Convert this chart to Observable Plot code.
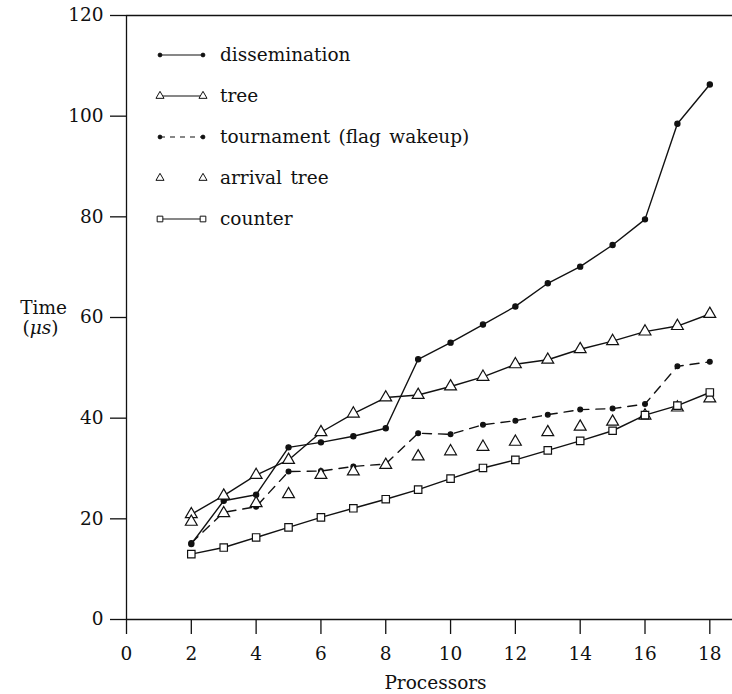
<!DOCTYPE html>
<html>
<head>
<meta charset="utf-8">
<script src="https://cdn.jsdelivr.net/npm/d3@7"></script>
<script src="https://cdn.jsdelivr.net/npm/@observablehq/plot@0.6"></script>
<style>
  html, body { margin: 0; padding: 0; background: #fff; }
  #chart { position: relative; width: 732px; height: 694px; }
  #chart > svg { position: absolute; left: 0; top: 0; }
</style>
</head>
<body>
<div id="chart"></div>
<script>
// ---- data ----
const processors = [2, 3, 4, 5, 6, 7, 8, 9, 10, 11, 12, 13, 14, 15, 16, 17, 18];
const dissemination = [15.0, 23.6, 24.8, 34.2, 35.2, 36.4, 38.0, 51.7, 55.0, 58.6, 62.2, 66.8, 70.1, 74.4, 79.5, 98.5, 106.3];
const tree = [20.9, 24.6, 28.7, 31.7, 37.2, 40.9, 44.1, 44.6, 46.3, 48.2, 50.7, 51.6, 53.7, 55.3, 57.2, 58.3, 60.7];
const tournament = [15.2, 21.3, 22.4, 29.4, 29.5, 30.4, 30.9, 37.0, 36.8, 38.7, 39.5, 40.7, 41.7, 41.9, 42.8, 50.3, 51.2];
const arrivalTree = [19.4, 21.1, 23.1, 24.9, 28.7, 29.4, 30.7, 32.4, 33.4, 34.3, 35.3, 37.2, 38.3, 39.3, 40.5, 42.1, 43.9];
const counter = [13.0, 14.3, 16.3, 18.3, 20.3, 22.1, 23.9, 25.8, 28.0, 30.1, 31.7, 33.6, 35.5, 37.5, 40.6, 42.5, 45.1];
const seriesNames = ["dissemination", "tree", "tournament (flag wakeup)", "arrival tree", "counter"];
const xTicks = [0, 2, 4, 6, 8, 10, 12, 14, 16, 18];
const yTicks = [0, 20, 40, 60, 80, 100, 120];
const xLabel = "Processors";
const yLabelLines = ["Time", "(μs)"];

// ---- styles per series (kept apart from data) ----
const seriesValues = [dissemination, tree, tournament, arrivalTree, counter];
const styles = [
  {symbol: "circle", fill: "#111", line: true, dash: null, r: 2.6, lr: 1.9},
  {symbol: "triangle", fill: "white", line: true, dash: null, r: 4.4, lr: 3.0},
  {symbol: "circle", fill: "#111", line: true, dash: "9,7", r: 2.4, lr: 1.9},
  {symbol: "triangle", fill: "white", line: false, dash: null, r: 4.4, lr: 3.0},
  {symbol: "square", fill: "white", line: true, dash: null, r: 4.2, lr: 3.2}
];
const ink = "#111";
const font = "DejaVu Serif";

const tables = seriesValues.map(vals => processors.map((p, i) => ({p, v: vals[i]})));

const marks = [
  Plot.ruleY([0, 120], {stroke: ink, strokeWidth: 1.3}),
  Plot.ruleX([0], {stroke: ink, strokeWidth: 1.3}),
  Plot.axisX({ticks: xTicks, tickSize: 15, tickPadding: 12, tickFormat: d => String(d), label: null, strokeWidth: 1.3}),
  Plot.axisY({ticks: yTicks, tickSize: 16, tickPadding: 7, tickFormat: d => String(d), label: null, strokeWidth: 1.3}),
  Plot.text([xLabel], {frameAnchor: "bottom", dx: 6, dy: 69, lineAnchor: "bottom", text: d => d}),
  Plot.text([yLabelLines[0]], {frameAnchor: "left", dx: -83, dy: -4, lineAnchor: "bottom", textAnchor: "middle", text: d => d}),
  Plot.text([yLabelLines[1]], {frameAnchor: "left", dx: -86, dy: 16, lineAnchor: "bottom", textAnchor: "middle", text: d => d})
];
tables.forEach((t, k) => {
  const s = styles[k];
  if (s.line) marks.push(Plot.line(t, {x: "p", y: "v", stroke: ink, strokeWidth: 1.4, strokeDasharray: s.dash}));
  marks.push(Plot.dot(t, {x: "p", y: "v", symbol: s.symbol, r: s.r, fill: s.fill, stroke: ink, strokeWidth: 1.2}));
});

const plot = Plot.plot({
  width: 732,
  height: 694,
  marginLeft: 126,
  marginRight: 0,
  marginTop: 15,
  marginBottom: 75,
  x: {domain: [0, 18.7]},
  y: {domain: [0, 120]},
  style: {fontFamily: font, fontSize: "18.5px", color: ink, background: "white"},
  marks
});
const chart = document.getElementById("chart");
chart.appendChild(plot);

// italic μs
d3.select(plot).selectAll("text").filter(function() { return this.textContent === "(μs)"; })
  .each(function() {
    const t = d3.select(this);
    t.text(null);
    t.append("tspan").text("(");
    t.append("tspan").attr("font-style", "italic").text("μs");
    t.append("tspan").text(")");
  });

// ---- legend overlay ----
const lg = d3.select(chart).append("svg")
  .attr("width", 732).attr("height", 694)
  .style("pointer-events", "none")
  .style("font-family", font).style("font-size", "18.5px");
const symMap = {circle: d3.symbolCircle, triangle: d3.symbolTriangle, square: d3.symbolSquare};
seriesNames.forEach((name, i) => {
  const s = styles[i];
  const y = 55 + i * 41;
  const g = lg.append("g").attr("transform", `translate(0,${y})`);
  if (s.line) g.append("line").attr("x1", 160).attr("x2", 203).attr("y1", 0).attr("y2", 0)
    .attr("stroke", ink).attr("stroke-width", 1.1).attr("stroke-dasharray", s.dash ? "5,5" : null);
  [160, 203].forEach(x => {
    g.append("path").attr("d", d3.symbol(symMap[s.symbol], Math.PI * s.lr * s.lr)())
      .attr("transform", `translate(${x},0)`)
      .attr("fill", s.fill).attr("stroke", ink).attr("stroke-width", 1);
  });
  g.append("text").attr("x", 220).attr("dy", "0.32em").attr("fill", ink)
    .style("word-spacing", "2.5px").text(name);
});
</script>
</body>
</html>
